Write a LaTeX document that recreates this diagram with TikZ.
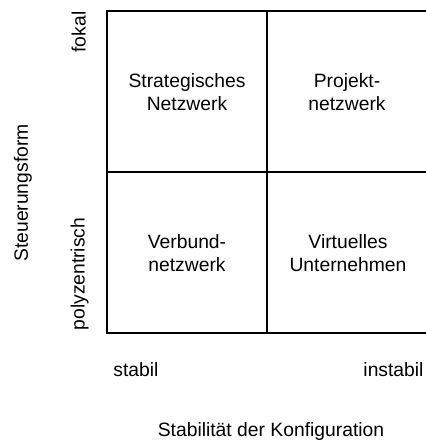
\documentclass[tikz,border=0pt]{standalone}
\usepackage{fontspec}
\setmainfont{Liberation Sans}
\begin{document}
\begin{tikzpicture}[x=1pt,y=1pt,
  lbl/.style={font=\fontsize{19.3}{23.5}\selectfont, inner sep=0pt},
  cell/.style={lbl, align=center},
  vlbl/.style={lbl, anchor=base, rotate=90},
  grid/.style={line width=1.3pt, black}]
% white page background fixes the margins
\fill[white] (0,0) rectangle (425,441);
\useasboundingbox (0,0) rectangle (425,441);
% portfolio grid
\coordinate (tl) at (107,430);
\coordinate (br) at (427,108);
\draw[grid] (tl) rectangle (br);
\draw[grid] (267,430) -- (267,108);
\draw[grid] (107,269) -- (427,269);
% quadrant labels
\node[cell] (sn) at (187,349) {Strategisches\\Netzwerk};
\node[cell] (pn) at (347,349) {Projekt-\\netzwerk};
\node[cell] (vn) at (187,188) {Verbund-\\netzwerk};
\node[cell] (vu) at (348,188) {Virtuelles\\Unternehmen};
% horizontal axis
\node[lbl, anchor=base] (stabil) at (136,64.5) {stabil};
\node[lbl, anchor=base] (instabil) at (393.5,64.5) {instabil};
\node[lbl, anchor=base] (xaxis) at (271,4.5) {Stabilität der Konfiguration};
% vertical axis
\node[vlbl] (yaxis) at (28,248) {Steuerungsform};
\node[vlbl] (fokal) at (85.5,409) {fokal};
\node[vlbl] (poly) at (84.5,167) {polyzentrisch};
\end{tikzpicture}
\end{document}
